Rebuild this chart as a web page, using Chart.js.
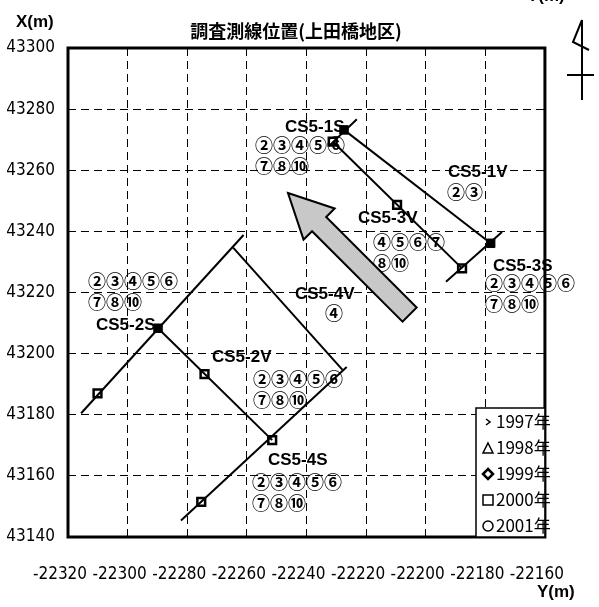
<!DOCTYPE html>
<html>
<head>
<meta charset="utf-8">
<script src="https://cdn.jsdelivr.net/npm/chart.js@4"></script>
<style>
  html, body { margin: 0; padding: 0; background: #fff; }
</style>
</head>
<body>
<canvas id="js--chart" width="599" height="607"></canvas>
<script>
// survey lines, Y(m) = horizontal, X(m) = vertical
const lineNames = ['CS5-1S', 'CS5-1V', 'CS5-3V', 'CS5-3S', 'CS5-2S', 'CS5-2V', 'CS5-4V', 'CS5-4S'];
const lineY = [
    [-22232.5, -22223.1],
    [-22227.4, -22178.2],
    [-22231.2, -22187.8],
    [-22193.2, -22174.4],
    [-22315.6, -22261.1],
    [-22289.8, -22251.5],
    [-22264.6, -22227.9],
    [-22282.1, -22226.5],
];
const lineX = [
    [43267.9, 43276.7],
    [43273.2, 43236.1],
    [43269.4, 43227.9],
    [43223.5, 43239.8],
    [43180.5, 43238.8],
    [43208.3, 43171.7],
    [43234.7, 43194.7],
    [43145.4, 43195.6],
];
const lineSurveys = [
    ['②③④⑤⑥', '⑦⑧⑩'],
    ['②③'],
    ['④⑤⑥⑦', '⑧⑩'],
    ['②③④⑤⑥', '⑦⑧⑩'],
    ['②③④⑤⑥', '⑦⑧⑩'],
    ['②③④⑤⑥', '⑦⑧⑩'],
    ['④'],
    ['②③④⑤⑥', '⑦⑧⑩'],
];

// benchmark points
const solidY = [-22227.4, -22178.2, -22289.8];
const solidX = [43273.2, 43236.1, 43208.3];
const boxY = [-22231.2, -22209.6, -22187.8, -22310.1, -22274.2, -22251.5, -22275.3];
const boxX = [43269.4, 43248.7, 43227.9, 43187.0, 43193.3, 43171.7, 43151.5];
const ringY = [-22231.2, -22187.8, -22310.1, -22275.3];
const ringX = [43269.4, 43227.9, 43187.0, 43151.5];

const legendYears = ['1997年', '1998年', '1999年', '2000年', '2001年'];

const title = '調査測線位置(上田橋地区)';

// label places on the page: [name x, name y, rows x, first row y]
const labelPlaces = [
    [285, 127, 255, 145],
    [448, 172, 447, 192],
    [358, 218, 373, 242],
    [493, 266, 485, 283],
    [96, 325, 88, 281],
    [212, 357, 253, 379],
    [295, 294, 325, 313],
    [268, 460, 252, 482],
];

const datasets = [];
for (let i = 0; i < lineNames.length; i++) {
    datasets.push({
        label: lineNames[i],
        data: [{x: lineY[i][0], y: lineX[i][0]}, {x: lineY[i][1], y: lineX[i][1]}],
        showLine: true,
        borderColor: '#000',
        borderWidth: 2,
        pointRadius: 0,
    });
}
datasets.push({
    label: '2000年',
    data: boxY.map(function (v, i) { return {x: v, y: boxX[i]}; }),
    pointStyle: 'rect',
    pointRadius: 5.5,
    backgroundColor: '#fff',
    borderColor: '#000',
    borderWidth: 2.5,
    showLine: false,
});
datasets.push({
    label: '2001年',
    data: ringY.map(function (v, i) { return {x: v, y: ringX[i]}; }),
    pointStyle: 'circle',
    pointRadius: 3.5,
    backgroundColor: 'rgba(0,0,0,0)',
    borderColor: '#000',
    borderWidth: 1.5,
    showLine: false,
});
datasets.push({
    label: '1999年',
    data: solidY.map(function (v, i) { return {x: v, y: solidX[i]}; }),
    pointStyle: 'rect',
    pointRadius: 6,
    backgroundColor: '#000',
    borderColor: '#000',
    borderWidth: 1,
    showLine: false,
});

const tickFamily = "'Liberation Sans Narrow', 'DejaVu Sans Condensed', 'Liberation Sans', sans-serif";

const decor = {
    id: 'decor',
    afterDraw: function (chart) {
        const ctx = chart.ctx;
        const a = chart.chartArea;
        ctx.save();

        // frame
        ctx.strokeStyle = '#000';
        ctx.lineWidth = 3;
        ctx.strokeRect(a.left, a.top, a.right - a.left, a.bottom - a.top);

        // title + axis names
        ctx.fillStyle = '#000';
        ctx.textBaseline = 'middle';
        ctx.textAlign = 'center';
        ctx.font = "bold 18px 'Noto Sans CJK JP'";
        ctx.fillText(title, 296, 31);
        ctx.font = "bold 17px 'Liberation Sans Narrow', 'Liberation Sans', sans-serif";
        ctx.textAlign = 'left';
        ctx.fillText('X(m)', 16, 22);
        ctx.fillText('Y(m)', 537, 592);
        ctx.fillText('Y(m)', 527, -4);

        // line labels
        for (let i = 0; i < lineNames.length; i++) {
            const p = labelPlaces[i];
            ctx.font = "bold 17px 'Liberation Sans', sans-serif";
            ctx.fillText(lineNames[i], p[0], p[1]);
            ctx.font = "bold 18px 'Noto Sans CJK JP'";
            for (let j = 0; j < lineSurveys[i].length; j++) {
                ctx.fillText(lineSurveys[i][j], p[2], p[3] + j * 21);
            }
        }

        // flow arrow
        const tip = [288, 193];
        const ux = 0.707, uy = 0.707;
        const nx = 0.707, ny = -0.707;
        const headLen = 44, headW = 22, shaftW = 10, len = 172;
        function pt(along, side) {
            return [tip[0] + ux * along + nx * side, tip[1] + uy * along + ny * side];
        }
        const poly = [pt(0, 0), pt(headLen, headW), pt(headLen, shaftW), pt(len, shaftW),
            pt(len, -shaftW), pt(headLen, -shaftW), pt(headLen, -headW)];
        ctx.beginPath();
        ctx.moveTo(poly[0][0], poly[0][1]);
        for (let k = 1; k < poly.length; k++) ctx.lineTo(poly[k][0], poly[k][1]);
        ctx.closePath();
        ctx.fillStyle = '#c8c8c8';
        ctx.fill();
        ctx.lineWidth = 2;
        ctx.strokeStyle = '#000';
        ctx.stroke();

        // north mark
        ctx.lineWidth = 2;
        ctx.beginPath();
        ctx.moveTo(582, 20); ctx.lineTo(573, 42); ctx.lineTo(589, 50);
        ctx.moveTo(582, 20); ctx.lineTo(582, 100);
        ctx.moveTo(567, 75); ctx.lineTo(594, 75);
        ctx.stroke();

        // legend box
        const lx = 476, ly = 408;
        ctx.fillStyle = '#fff';
        ctx.fillRect(lx, ly, a.right - lx, a.bottom - ly);
        ctx.lineWidth = 1.5;
        ctx.strokeRect(lx, ly, a.right - lx, a.bottom - ly);
        ctx.fillStyle = '#000';
        ctx.font = "17px 'Liberation Sans Narrow', 'Noto Sans CJK JP', sans-serif";
        for (let k = 0; k < legendYears.length; k++) {
            const y = 422 + k * 26;
            const mx = 488;
            ctx.fillStyle = '#000';
            ctx.fillText(legendYears[k], 496, y);
            ctx.lineWidth = 1.5;
            ctx.beginPath();
            if (k === 0) {
                ctx.moveTo(486, y - 3); ctx.lineTo(490, y); ctx.lineTo(486, y + 3);
            } else if (k === 1) {
                ctx.moveTo(mx, y - 5); ctx.lineTo(mx + 5, y + 5); ctx.lineTo(mx - 5, y + 5); ctx.closePath();
            } else if (k === 2) {
                ctx.lineWidth = 2.5;
                ctx.moveTo(mx, y - 5); ctx.lineTo(mx + 5, y); ctx.lineTo(mx, y + 5); ctx.lineTo(mx - 5, y); ctx.closePath();
            } else if (k === 3) {
                ctx.rect(mx - 5, y - 5, 10, 10);
            } else {
                ctx.arc(mx, y, 5, 0, Math.PI * 2);
            }
            ctx.stroke();
        }
        ctx.restore();
    }
};

new Chart(document.getElementById('js--chart'), {
    type: 'scatter',
    data: {datasets: datasets},
    options: {
        responsive: false,
        animation: false,
        layout: {padding: {top: 48, right: 32, left: 0, bottom: 0}},
        plugins: {legend: {display: false}, tooltip: {enabled: false}},
        scales: {
            x: {
                type: 'linear',
                min: -22320,
                max: -22160,
                afterFit: function (s) { s.height = 70; },
                ticks: {
                    stepSize: 20,
                    color: '#000',
                    font: {family: tickFamily, size: 17},
                    padding: 27,
                    labelOffset: -8,
                    maxRotation: 0,
                    autoSkip: false,
                    callback: function (v) { return String(v); },
                },
                grid: {color: '#000', lineWidth: 1, drawTicks: false},
                border: {display: false, dash: [8, 5]},
            },
            y: {
                type: 'linear',
                min: 43140,
                max: 43300,
                afterFit: function (s) { s.width = 68; },
                ticks: {
                    stepSize: 20,
                    color: '#000',
                    font: {family: tickFamily, size: 17},
                    padding: 13,
                    callback: function (v) { return String(v); },
                },
                grid: {color: '#000', lineWidth: 1, drawTicks: false},
                border: {display: false, dash: [8, 5]},
            },
        },
    },
    plugins: [decor],
});
</script>
</body>
</html>
